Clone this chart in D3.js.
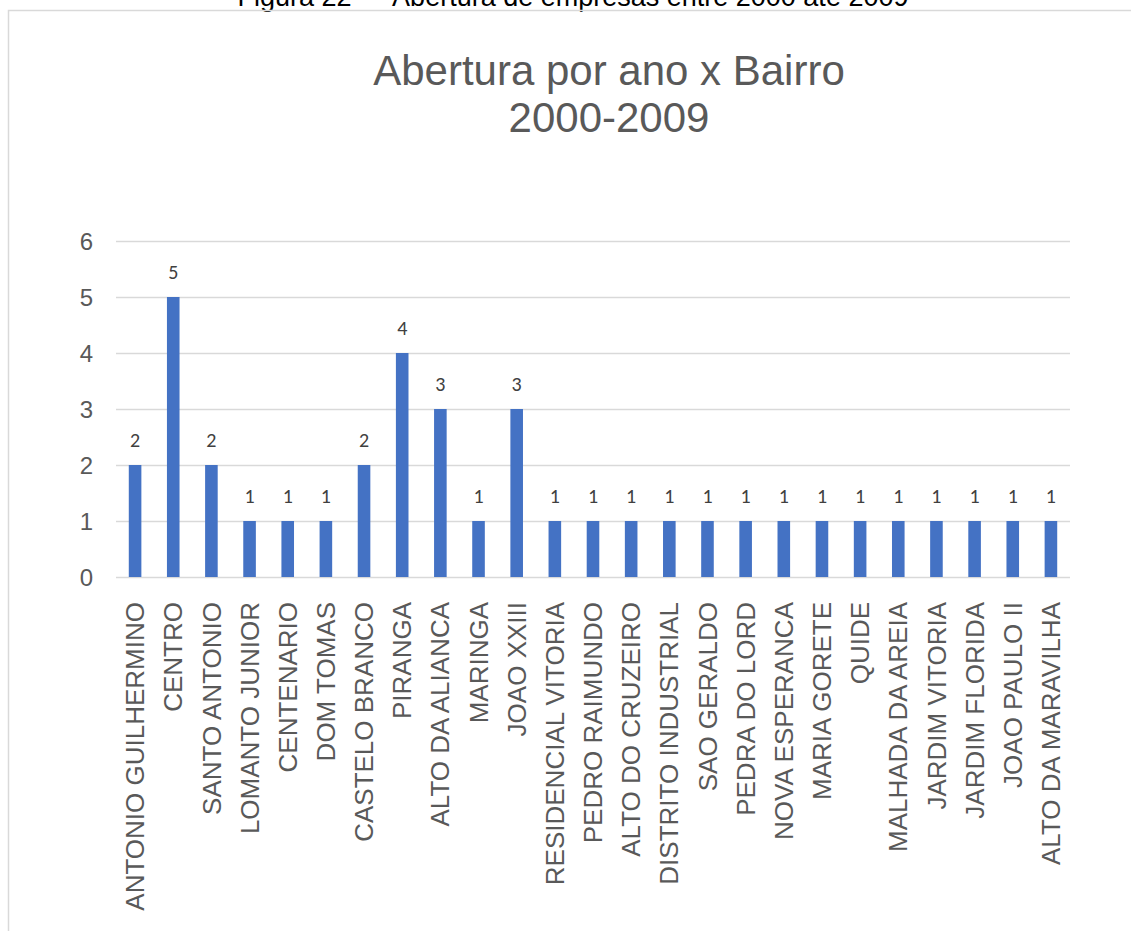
<!DOCTYPE html>
<html>
<head>
<meta charset="utf-8">
<script src="https://cdn.jsdelivr.net/npm/d3@7"></script>
<style>
  html, body { margin: 0; padding: 0; background: #fff; overflow: hidden; }
  svg { display: block; }
</style>
</head>
<body>
<script>
// Neighbourhoods and number of companies opened, 2000-2009
const bairros = [
  "ANTONIO GUILHERMINO", "CENTRO", "SANTO ANTONIO", "LOMANTO JUNIOR",
  "CENTENARIO", "DOM TOMAS", "CASTELO BRANCO", "PIRANGA",
  "ALTO DA ALIANCA", "MARINGA", "JOAO XXIII", "RESIDENCIAL VITORIA",
  "PEDRO RAIMUNDO", "ALTO DO CRUZEIRO", "DISTRITO INDUSTRIAL", "SAO GERALDO",
  "PEDRA DO LORD", "NOVA ESPERANCA", "MARIA GORETE", "QUIDE",
  "MALHADA DA AREIA", "JARDIM VITORIA", "JARDIM FLORIDA", "JOAO PAULO II",
  "ALTO DA MARAVILHA"
];
const aberturas = [2, 5, 2, 1, 1, 1, 2, 4, 3, 1, 3, 1, 1, 1, 1, 1, 1, 1, 1, 1, 1, 1, 1, 1, 1];
const yTicks = [0, 1, 2, 3, 4, 5, 6];
const tituloLinhas = ["Abertura por ano x Bairro", "2000-2009"];
const legenda = "Figura 22 \u2014 Abertura de empresas entre 2000 at\u00e9 2009";

const W = 1131, H = 931;
const svg = d3.select("body").append("svg").attr("width", W).attr("height", H);

// Figure caption (runs off the top edge of the page)
svg.append("text")
  .attr("x", 573).attr("y", 6)
  .attr("text-anchor", "middle")
  .attr("font-family", "Liberation Sans, Arial, sans-serif")
  .attr("font-size", 27)
  .attr("fill", "#000")
  .text(legenda);

// Chart frame
svg.append("path")
  .attr("d", `M8.5,${H} L8.5,10.5 L${W},10.5`)
  .attr("fill", "none").attr("stroke", "#d9d9d9").attr("stroke-width", 1.5);

// Title
const title = svg.append("text")
  .attr("text-anchor", "middle")
  .attr("font-family", "Liberation Sans, Arial, sans-serif")
  .attr("font-size", 42)
  .attr("fill", "#595959");
tituloLinhas.forEach((t, i) => {
  title.append("tspan").attr("x", 609).attr("y", 85 + i * 47).text(t);
});

const plot = { left: 116, right: 1070, top: 241, bottom: 577 };

const x = d3.scaleBand()
  .domain(bairros)
  .range([plot.left, plot.right])
  .paddingInner(0.67)
  .paddingOuter(0.335);

const y = d3.scaleLinear().domain([0, 6]).range([plot.bottom, plot.top]);

// Gridlines
svg.append("g")
  .selectAll("line")
  .data(yTicks)
  .join("line")
  .attr("x1", plot.left).attr("x2", plot.right)
  .attr("y1", d => Math.round(y(d)) + 0.5).attr("y2", d => Math.round(y(d)) + 0.5)
  .attr("stroke", "#d9d9d9").attr("stroke-width", 1.5);

// Y axis labels
const yAxis = d3.axisLeft(y).tickValues(yTicks).tickFormat(d3.format("d")).tickSize(0).tickPadding(0);
const gy = svg.append("g").attr("transform", `translate(${plot.left - 23},0)`).call(yAxis);
gy.select(".domain").remove();
gy.selectAll("text")
  .attr("font-family", "Liberation Sans, Arial, sans-serif")
  .attr("font-size", 24)
  .attr("fill", "#595959")
  .attr("dy", "0.35em");

// Bars
svg.append("g")
  .selectAll("rect")
  .data(bairros)
  .join("rect")
  .attr("x", d => x(d))
  .attr("width", x.bandwidth())
  .attr("y", (d, i) => y(aberturas[i]))
  .attr("height", (d, i) => y(0) - y(aberturas[i]))
  .attr("fill", "#4472c4");

// Data labels
svg.append("g")
  .selectAll("text")
  .data(bairros)
  .join("text")
  .attr("x", d => x(d) + x.bandwidth() / 2)
  .attr("y", (d, i) => y(aberturas[i]) - 18)
  .attr("text-anchor", "middle")
  .attr("font-family", "Carlito, Calibri, 'Open Sans', sans-serif")
  .attr("font-size", 20)
  .attr("fill", "#404040")
  .text((d, i) => aberturas[i]);

// X axis labels, rotated
const xAxis = d3.axisBottom(x).tickSize(0).tickPadding(0);
const gx = svg.append("g").attr("transform", `translate(0,${plot.bottom})`).call(xAxis);
gx.select(".domain").remove();
gx.selectAll("text")
  .attr("font-family", "Liberation Sans, Arial, sans-serif")
  .attr("font-size", 26)
  .attr("fill", "#595959")
  .attr("text-anchor", "end")
  .attr("transform", "rotate(-90)")
  .attr("x", -25)
  .attr("y", 0)
  .attr("dy", "0.35em");
</script>
</body>
</html>
